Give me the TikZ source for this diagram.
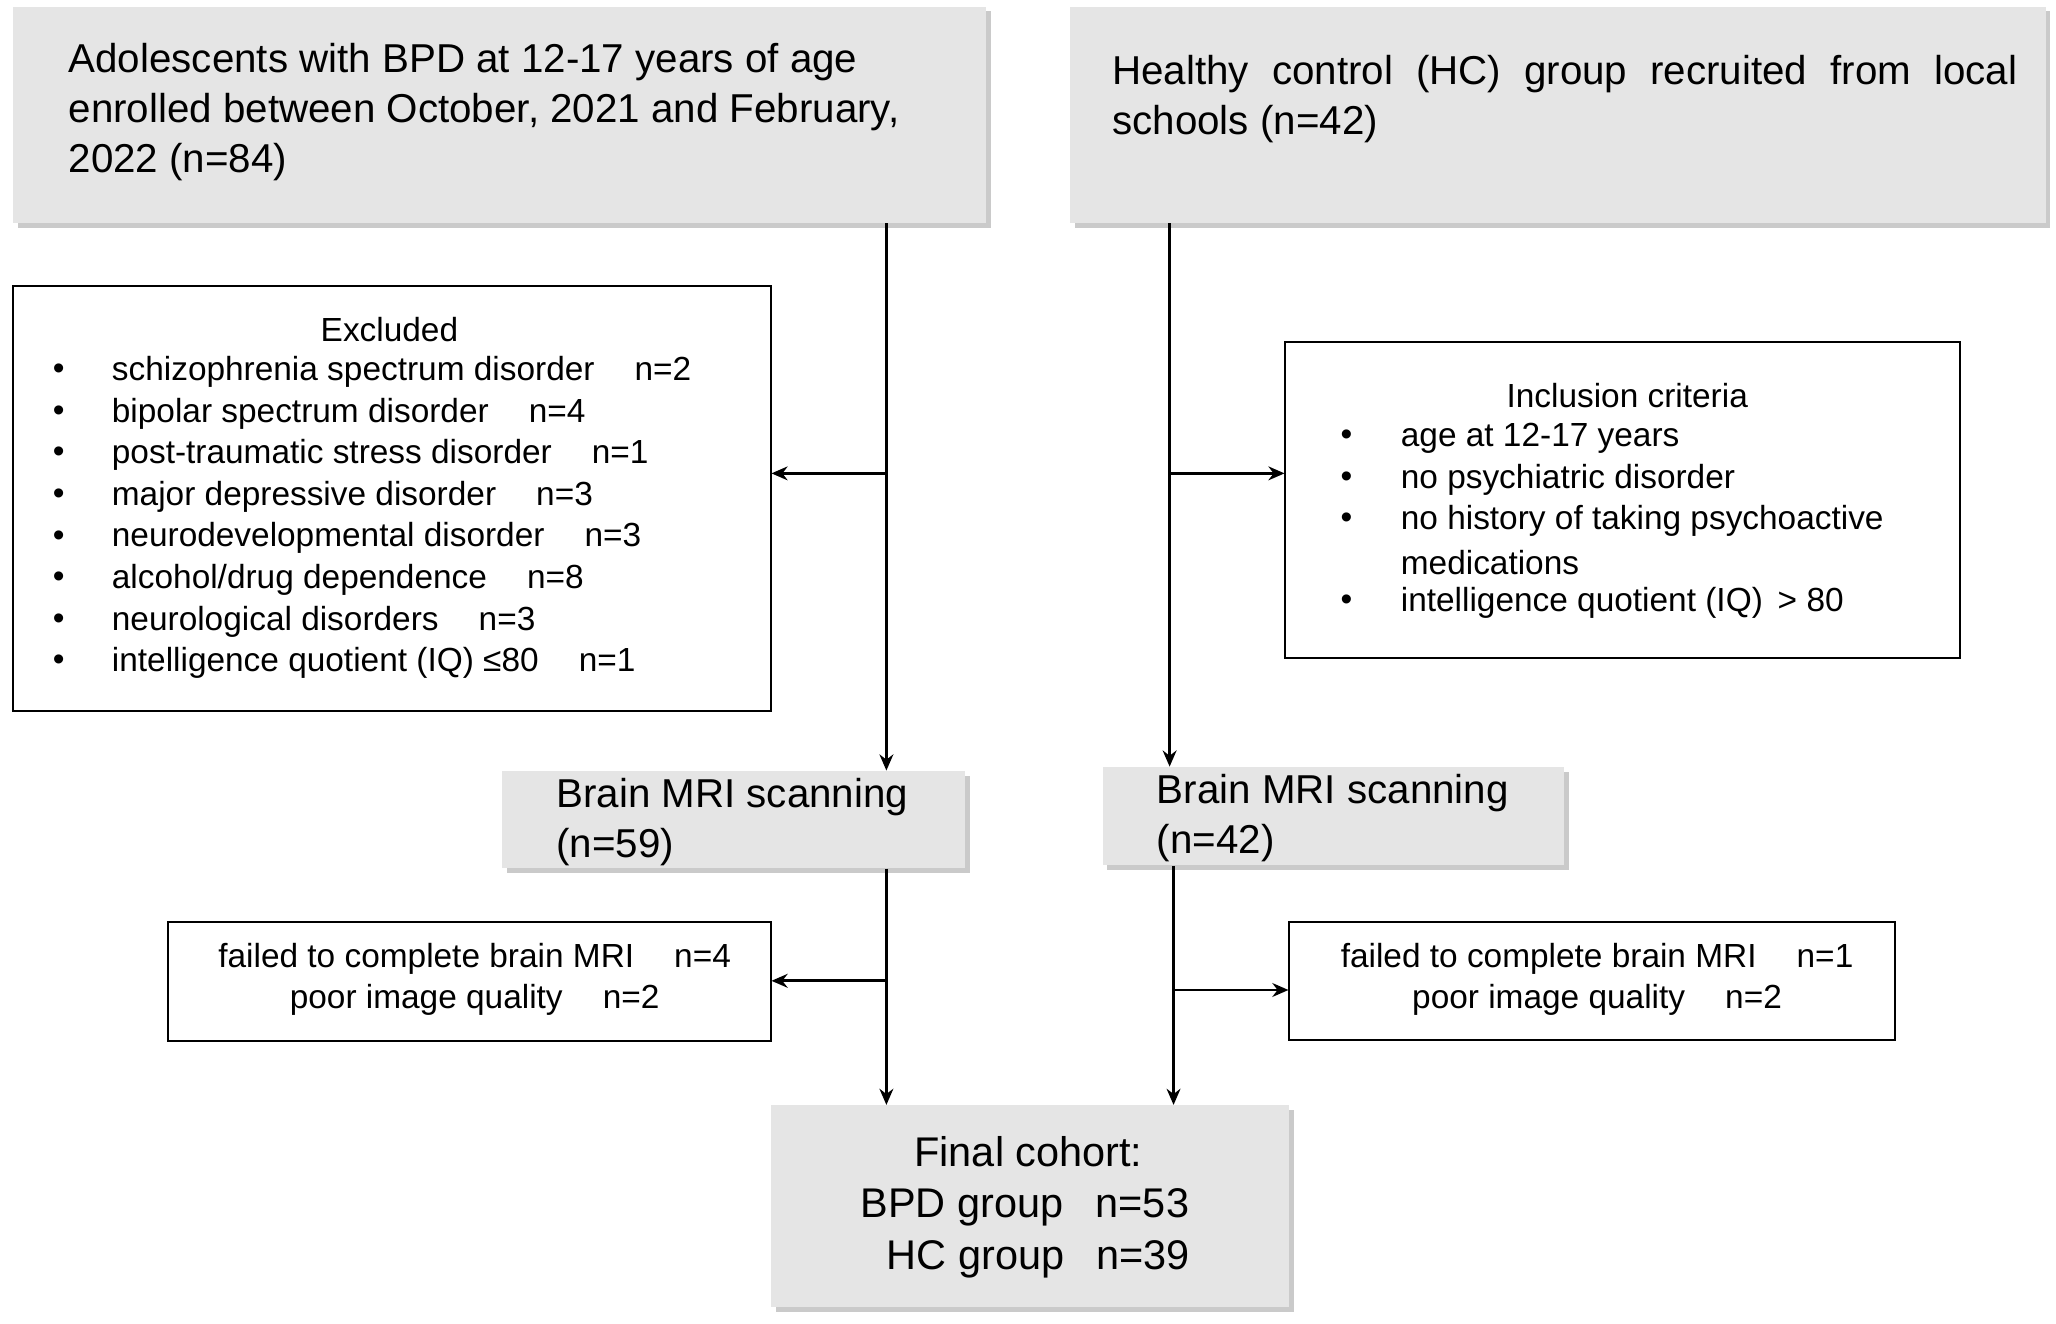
\documentclass[tikz,border=0pt]{standalone}
\usepackage{fontspec}
\setmainfont{Liberation Sans}
\usetikzlibrary{shadows,arrows.meta}
\begin{document}
\begin{tikzpicture}[x=0.02cm,y=-0.02cm,
  gbox/.style={draw=none,fill=black!10,drop shadow={shadow xshift=2pt,shadow yshift=-2pt,fill=black!35,opacity=0.6}},
  wbox/.style={draw,line width=1pt,fill=white},
  big/.style={font=\fontsize{17.5}{21.6}\selectfont,align=left,inner sep=0},
  sm/.style={font=\fontsize{14.5}{18}\selectfont,inner sep=0},
  arr/.style={line width=1.2pt,-{Stealth[length=7pt,width=6pt]}},
  ln/.style={line width=1.2pt}]
\useasboundingbox (0,0) rectangle (1568,1009);
% boxes
\path[gbox] (10,5) rectangle (752,170);
\path[gbox] (816,5) rectangle (1560,170);
\path[gbox] (383,588) rectangle (736,662);
\path[gbox] (841,585) rectangle (1193,660);
\path[gbox] (588,843) rectangle (983,997);
\node (tl) at (381,87.5) [minimum width=742*0.02cm,minimum height=165*0.02cm] {};
\node (tr) at (1188,87.5) [minimum width=744*0.02cm,minimum height=165*0.02cm] {};
\node (mriL) at (559.5,625) [minimum width=353*0.02cm,minimum height=74*0.02cm] {};
\node (mriR) at (1017,622.5) [minimum width=352*0.02cm,minimum height=75*0.02cm] {};
\node (fin) at (785.5,920) [minimum width=395*0.02cm,minimum height=154*0.02cm] {};
\draw[wbox] (10,218) rectangle (588,542);
\draw[wbox] (980,261) rectangle (1495,502);
\draw[wbox] (128,703) rectangle (588,794);
\draw[wbox] (983,703) rectangle (1445,793);
\node (exc) at (299,380) [minimum width=578*0.02cm,minimum height=324*0.02cm] {};
\node (inc) at (1237.5,381.5) [minimum width=515*0.02cm,minimum height=241*0.02cm] {};
\node (fL) at (358,748.5) [minimum width=460*0.02cm,minimum height=91*0.02cm] {};
\node (fR) at (1214,748) [minimum width=462*0.02cm,minimum height=90*0.02cm] {};
% texts
\node[big,anchor=north west] (t1) at (52,33) {Adolescents with BPD at 12-17 years of age\\enrolled between October, 2021 and February,\\2022 (n=84)};
\node[big,anchor=north west,text width=690*0.02cm,align=justify] (t2) at (848,42) {Healthy control (HC) group recruited from local schools (n=42)};
\node[big,anchor=north west] (t3) at (424,593) {Brain MRI scanning\\(n=59)};
\node[big,anchor=north west] (t4) at (882,590) {Brain MRI scanning\\(n=42)};
\node[big,font=\fontsize{18}{22.5}\selectfont,align=left,anchor=north west] (t5) at (656,866) {\hspace*{41\dimexpr0.02cm\relax}Final cohort:\\BPD group\hspace{0.5em} n=53\\\hspace*{20\dimexpr0.02cm\relax}HC group\hspace{0.5em} n=39};
\node[sm] (eh) at (297,251) {Excluded};
\foreach \t [count=\i] in {schizophrenia spectrum disorder\hspace{1.2em}n=2, bipolar spectrum disorder\hspace{1.2em}n=4, post-traumatic stress disorder\hspace{1.2em}n=1, major depressive disorder\hspace{1.2em}n=3, neurodevelopmental disorder\hspace{1.2em}n=3, alcohol/drug dependence\hspace{1.2em}n=8, neurological disorders\hspace{1.2em}n=3, intelligence quotient (IQ) ≤80\hspace{1.2em}n=1}{
  \node[sm,anchor=west] (eb\i) at (40,252+31.7*\i) {•};
  \node[sm,anchor=west] (et\i) at (85,252+31.7*\i) {\t};
}
\node[sm] (ih) at (1241,302) {Inclusion criteria};
\foreach \t/\y [count=\i] in {age at 12-17 years/334, no psychiatric disorder/366, no history of taking psychoactive/397, intelligence quotient (IQ) \,> 80/460}{
  \node[sm,anchor=west] (ib\i) at (1022,\y) {•};
  \node[sm,anchor=west] (it\i) at (1068,\y) {\t};
}
\node[sm,anchor=west] (it5) at (1068,429) {medications};
\node[sm,align=center] (ft1) at (362,747) {failed to complete brain MRI\hspace{1.2em}n=4\\poor image quality\hspace{1.2em}n=2};
\node[sm,align=center] (ft2) at (1218,747) {failed to complete brain MRI\hspace{1.2em}n=1\\poor image quality\hspace{1.2em}n=2};
% connectors
\coordinate (lx) at (676,0); \coordinate (rx) at (892,0); \coordinate (rx2) at (895,0);
\draw[arr] (tl.south -| lx) -- (mriL.north -| lx);
\draw[arr] (676,361) -- (exc.east |- 0,361);
\draw[arr] (tr.south -| rx) -- (mriR.north -| rx);
\draw[arr] (892,361) -- (inc.west |- 0,361);
\draw[arr] (mriL.south -| lx) -- (fin.north -| lx);
\draw[arr] (676,748) -- (fL.east |- 0,748);
\draw[arr] (mriR.south -| rx2) -- (fin.north -| rx2);
\draw[arr] (895,755) -- (fR.west |- 0,755);
\end{tikzpicture}
\end{document}
